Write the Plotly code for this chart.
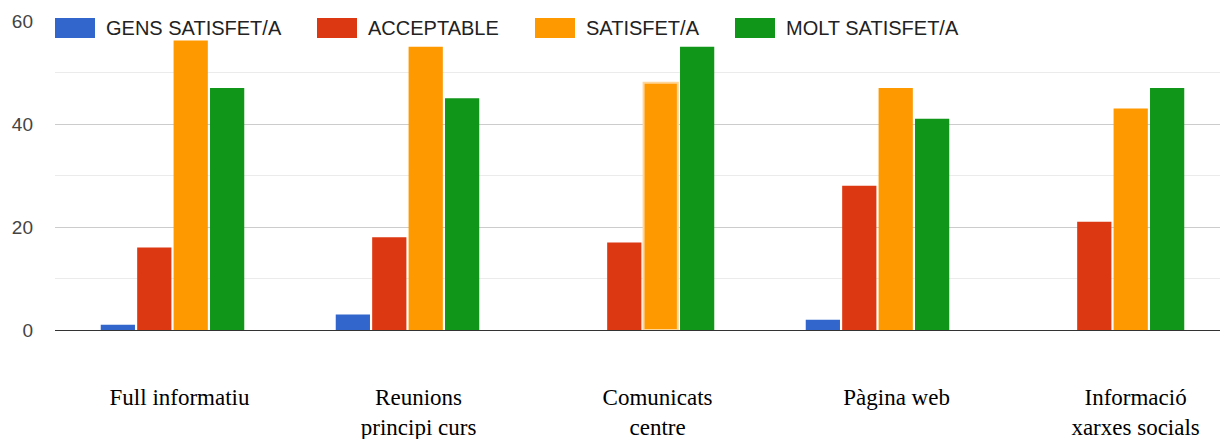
import plotly.graph_objects as go

categories = ["Full informatiu", "Reunions<br>principi curs", "Comunicats<br>centre", "Pàgina web", "Informació<br>xarxes socials"]
series_names = ["GENS SATISFET/A", "ACCEPTABLE", "SATISFET/A", "MOLT SATISFET/A"]
gens = [1, 3, 0, 2, 0]
acceptable = [16, 18, 17, 28, 21]
satisfet = [57, 55, 48, 47, 43]
molt = [47, 45, 55, 41, 47]
colors = ["#3366cc", "#dc3912", "#ff9900", "#109618"]
y_ticks = [0, 20, 40, 60]

# plot-area geometry in pixels (for the hand-drawn legend)
L, R, T, B = 55, 1230, 21, 330
PW, PH = R - L, B - T

fig = go.Figure()
for name, vals, col in zip(series_names, [gens, acceptable, satisfet, molt], colors):
    line_cols = [col] * len(vals)
    line_w = [0] * len(vals)
    if name == "SATISFET/A":
        line_cols[2] = "#ffd699"
        line_w[2] = 2
    fig.add_trace(go.Bar(
        x=categories, y=vals, name=name,
        marker=dict(color=col, line=dict(color=line_cols, width=line_w)),
        showlegend=False,
    ))

# category labels on an overlaid index axis (labels in the reference are spaced slightly wider than the bar groups)
label_pos = list(range(len(categories)))
fig.add_trace(go.Scatter(x=label_pos, y=[None] * len(categories), xaxis="x2", yaxis="y",
                         mode="markers", showlegend=False, hoverinfo="skip"))

# manual legend (Google-Charts style wide swatches)
leg_x = [55, 317, 535, 735]
for i, (name, col) in enumerate(zip(series_names, colors)):
    fig.add_shape(type="rect", xref="paper", yref="paper",
                  x0=(leg_x[i] - L) / PW, x1=(leg_x[i] - L + 40) / PW,
                  y0=(B - 38) / PH, y1=(B - 18) / PH,
                  fillcolor=col, line=dict(width=0), layer="above")
    fig.add_annotation(xref="paper", yref="paper",
                       x=(leg_x[i] - L + 49) / PW, y=(B - 28) / PH,
                       text=name, showarrow=False, xanchor="left", yanchor="middle",
                       font=dict(family="Liberation Sans, Arial, sans-serif", size=20, color="#222222"),
                       bgcolor="white", borderpad=1)

fig.update_layout(
    width=1230, height=439,
    margin=dict(l=L, r=0, t=T, b=439 - B),
    plot_bgcolor="white", paper_bgcolor="white",
    barmode="group", bargap=0.38, bargroupgap=0.06,
    xaxis=dict(
        showgrid=False, showline=False, ticks="", showticklabels=False, automargin=False,
    ),
    xaxis2=dict(
        overlaying="x", anchor="y", side="bottom", type="linear",
        range=[-0.521, 4.395], tickvals=label_pos, ticktext=categories,
        showgrid=False, zeroline=False, showline=False, ticks="",
        tickfont=dict(family="Liberation Serif, Times New Roman, serif", size=23, color="#000000"),
        ticklabelstandoff=51, automargin=False,
    ),
    yaxis=dict(
        range=[0, 60], tickvals=y_ticks, showgrid=True, gridcolor="#cccccc", gridwidth=1,
        minor=dict(tickvals=[10, 30, 50], showgrid=True, gridcolor="#ebebeb", gridwidth=1),
        zeroline=True, zerolinecolor="#333333", zerolinewidth=1,
        tickfont=dict(family="Liberation Sans, Arial, sans-serif", size=19, color="#444444"),
        ticklabelstandoff=21, showline=False, automargin=False,
    ),
)

fig.write_html("out.html", config={"displayModeBar": False},
               post_script="document.body.style.margin='0';document.body.style.overflow='hidden';")
